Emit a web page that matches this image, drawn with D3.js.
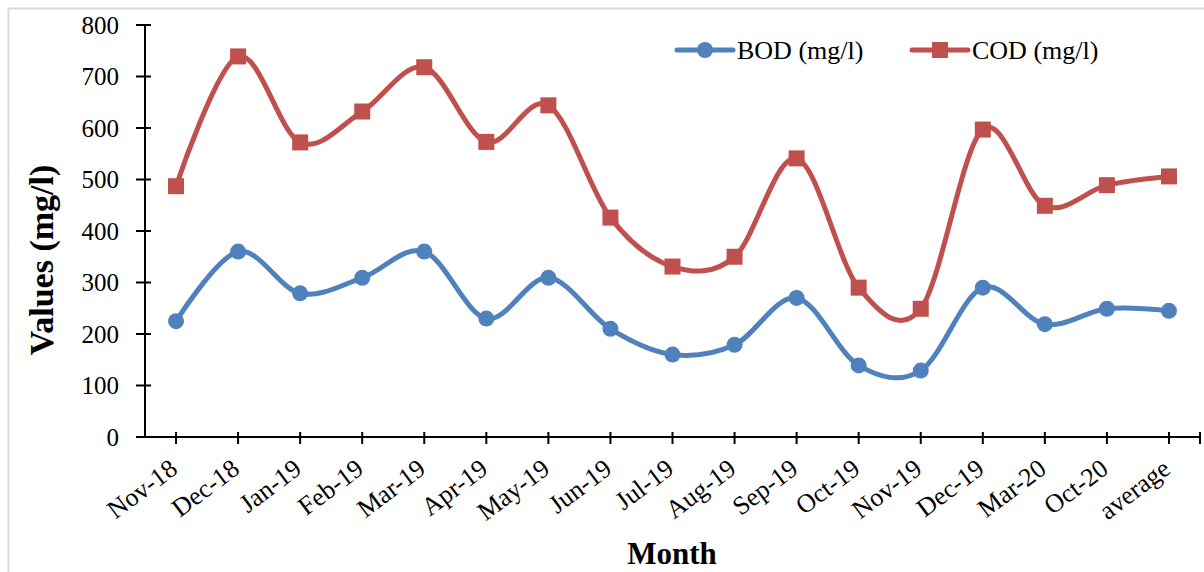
<!DOCTYPE html>
<html>
<head>
<meta charset="utf-8">
<script src="https://cdn.jsdelivr.net/npm/d3@7"></script>
<style>
  html, body { margin: 0; padding: 0; background: #fff; }
  svg { display: block; }
  text { font-family: "Liberation Serif", "Times New Roman", serif; fill: #000; }
</style>
</head>
<body>
<svg id="chart" width="1204" height="572"></svg>
<script>
// Monthly sampling periods plus the overall average
const months = ["Nov-18", "Dec-18", "Jan-19", "Feb-19", "Mar-19", "Apr-19", "May-19", "Jun-19",
  "Jul-19", "Aug-19", "Sep-19", "Oct-19", "Nov-19", "Dec-19", "Mar-20", "Oct-20", "average"];
const bod = [225, 360, 279, 309, 360, 230, 309, 210, 160, 179, 270, 139, 129, 290, 219, 249, 245];
const cod = [487, 739, 572, 632, 718, 573, 644, 426, 331, 350, 541, 290, 249, 597, 449, 489, 506];
const yTicks = [0, 100, 200, 300, 400, 500, 600, 700, 800];

const svg = d3.select("#chart");
const plotLeft = 145, plotRight = 1200, plotTop = 25, plotBottom = 437;

// outer chart frame
svg.append("path")
  .attr("d", "M8.5,600 V8.5 H1210")
  .attr("fill", "none").attr("stroke", "#d9d9d9").attr("stroke-width", 2);

const x = d3.scaleBand().domain(months).range([plotLeft, plotRight]);
const xc = d => x(d) + x.bandwidth() / 2;
const y = d3.scaleLinear().domain([0, 800]).range([plotBottom, plotTop]);

// y axis
const yAxis = svg.append("g");
yAxis.append("line").attr("x1", plotLeft).attr("x2", plotLeft).attr("y1", plotTop).attr("y2", plotBottom)
  .attr("stroke", "#000").attr("stroke-width", 2);
yAxis.selectAll("line.tick").data(yTicks).join("line").attr("class", "tick")
  .attr("x1", plotLeft - 9).attr("x2", plotLeft + 6)
  .attr("y1", d => y(d)).attr("y2", d => y(d))
  .attr("stroke", "#000").attr("stroke-width", 2);
yAxis.selectAll("text").data(yTicks).join("text")
  .attr("x", plotLeft - 26).attr("y", d => y(d)).attr("dy", "0.35em")
  .attr("text-anchor", "end").attr("font-size", 25)
  .text(d => d);

// x axis
const xAxis = svg.append("g");
xAxis.append("line").attr("x1", plotLeft).attr("x2", plotRight).attr("y1", plotBottom).attr("y2", plotBottom)
  .attr("stroke", "#000").attr("stroke-width", 2);
const xTickPos = months.map(xc).concat([plotRight]);
xAxis.selectAll("line.tick").data(xTickPos).join("line").attr("class", "tick")
  .attr("x1", d => d).attr("x2", d => d)
  .attr("y1", plotBottom - 5).attr("y2", plotBottom + 7)
  .attr("stroke", "#000").attr("stroke-width", 2);
xAxis.selectAll("text").data(months).join("text")
  .attr("transform", d => `translate(${xc(d) + 3},${plotBottom + 35}) rotate(-37)`)
  .attr("text-anchor", "end").attr("font-size", 26)
  .text(d => d);

// axis titles
svg.append("text")
  .attr("transform", `translate(53,260) rotate(-90)`)
  .attr("text-anchor", "middle").attr("font-size", 34).attr("font-weight", "bold")
  .text("Values (mg/l)");
svg.append("text")
  .attr("x", 672).attr("y", 564)
  .attr("text-anchor", "middle").attr("font-size", 31).attr("font-weight", "bold")
  .text("Month");

// series
const series = [
  { name: "BOD (mg/l)", values: bod, color: "#4f81bd", marker: "circle" },
  { name: "COD (mg/l)", values: cod, color: "#c0504d", marker: "square" }
];

const line = d3.line()
  .x((d, i) => xc(months[i]))
  .y(d => y(d))
  .curve(d3.curveCardinal.tension(0));

function drawMarker(g, type, color, cx, cy) {
  if (type === "circle") {
    g.append("circle").attr("cx", cx).attr("cy", cy).attr("r", 8).attr("fill", color);
  } else {
    g.append("rect").attr("x", cx - 8).attr("y", cy - 8).attr("width", 16).attr("height", 16)
      .attr("fill", color);
  }
}

series.forEach(s => {
  const g = svg.append("g");
  g.append("path").datum(s.values).attr("d", line)
    .attr("fill", "none").attr("stroke", s.color).attr("stroke-width", 5)
    .attr("stroke-linejoin", "round").attr("stroke-linecap", "round");
  s.values.forEach((v, i) => drawMarker(g, s.marker, s.color, xc(months[i]), y(v)));
});

// legend
const legendX = [677, 912];
series.forEach((s, i) => {
  const g = svg.append("g");
  const lx = legendX[i], ly = 50;
  g.append("line").attr("x1", lx).attr("x2", lx + 56).attr("y1", ly).attr("y2", ly)
    .attr("stroke", s.color).attr("stroke-width", 5).attr("stroke-linecap", "round");
  drawMarker(g, s.marker, s.color, lx + 28, ly);
  g.append("text").attr("x", lx + 60).attr("y", ly).attr("dy", "0.35em")
    .attr("font-size", 26).text(s.name);
});
</script>
</body>
</html>
